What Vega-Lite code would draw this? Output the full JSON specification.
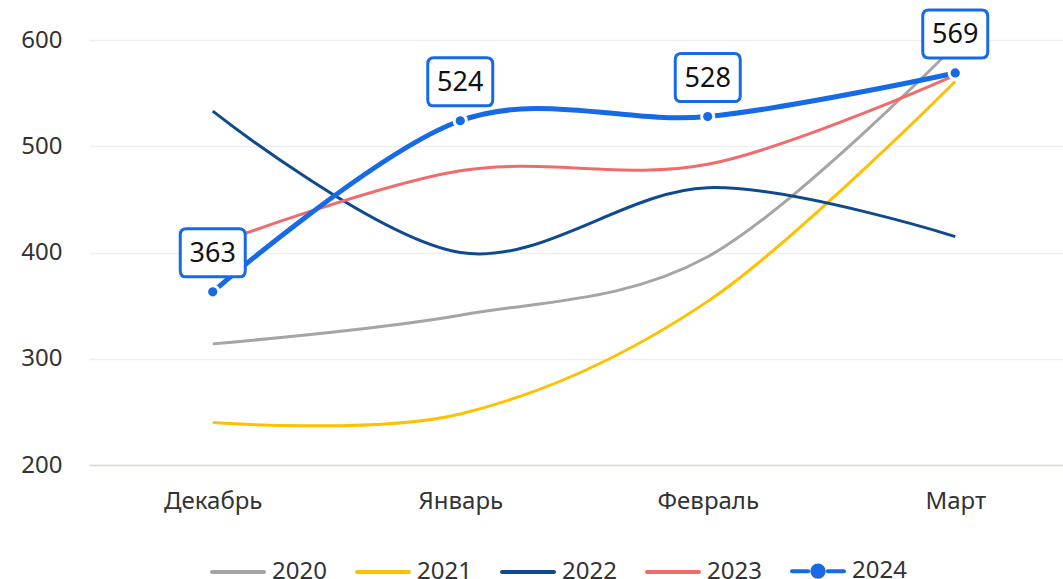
{
  "$schema": "https://vega.github.io/schema/vega-lite/v6.json",
  "width": 990,
  "height": 425,
  "autosize": {"type": "none"},
  "padding": {"left": 89, "top": 40, "right": 0, "bottom": 114},
  "background": "white",
  "config": {"font": "Noto Sans", "view": {"stroke": null}},
  "data": {"values": [
    {"month": "Декабрь", "year": "2020", "value": 314},
    {"month": "Январь", "year": "2020", "value": 341},
    {"month": "Февраль", "year": "2020", "value": 396},
    {"month": "Март", "year": "2020", "value": 595},
    {"month": "Декабрь", "year": "2021", "value": 240},
    {"month": "Январь", "year": "2021", "value": 248},
    {"month": "Февраль", "year": "2021", "value": 354},
    {"month": "Март", "year": "2021", "value": 561},
    {"month": "Декабрь", "year": "2022", "value": 533},
    {"month": "Январь", "year": "2022", "value": 400},
    {"month": "Февраль", "year": "2022", "value": 461},
    {"month": "Март", "year": "2022", "value": 415},
    {"month": "Декабрь", "year": "2023", "value": 407},
    {"month": "Январь", "year": "2023", "value": 477},
    {"month": "Февраль", "year": "2023", "value": 483},
    {"month": "Март", "year": "2023", "value": 567},
    {"month": "Декабрь", "year": "2024", "value": 363},
    {"month": "Январь", "year": "2024", "value": 524},
    {"month": "Февраль", "year": "2024", "value": 528},
    {"month": "Март", "year": "2024", "value": 569}
  ]},
  "encoding": {
    "x": {
      "field": "month", "type": "ordinal",
      "sort": ["Декабрь", "Январь", "Февраль", "Март"],
      "scale": {"type": "point", "padding": 0.5},
      "axis": {"title": null, "ticks": false, "grid": false, "domainColor": "#D6D6E2", "domainWidth": 1.5, "labelFontSize": 24, "labelColor": "#333333", "labelPadding": 24, "labelAngle": 0}
    },
    "y": {
      "field": "value", "type": "quantitative",
      "scale": {"domain": [200, 600], "nice": false, "zero": false},
      "axis": {"title": null, "values": [200, 300, 400, 500, 600], "ticks": false, "domain": false, "gridColor": "#EEEEF4", "gridWidth": 1.5, "labelFontSize": 24, "labelColor": "#333333", "labelPadding": 27}
    }
  },
  "layer": [
    {
      "mark": {"type": "line", "interpolate": "cardinal"},
      "encoding": {
        "color": {
          "field": "year", "type": "nominal",
          "scale": {"domain": ["2020", "2021", "2022", "2023", "2024"], "range": ["#A5A5A5", "#FFC000", "#0F4A8E", "#F06C6C", "#176AE6"]},
          "legend": {
            "title": null, "orient": "none", "direction": "horizontal",
            "legendX": 121, "legendY": 503,
            "labelFontSize": 24, "labelColor": "#333333", "labelOffset": 6,
            "columnPadding": 22, "symbolSize": 2704, "symbolStrokeWidth": 4,
            "encode": {"symbols": {"update": {
              "shape": {"signal": "datum.value === '2024' ? 'M-1,0H-0.38M0.38,0H1M0.22,0A0.22,0.22 0 1 1 -0.22,0A0.22,0.22 0 1 1 0.22,0Z' : 'M-1,0H1'"},
              "fill": {"signal": "datum.value === '2024' ? '#176AE6' : 'transparent'"},
              "strokeWidth": {"value": 4},
              "strokeCap": {"value": "round"}
            }}}
          }
        },
        "strokeWidth": {"condition": {"test": "datum.year === '2024'", "value": 5}, "value": 3}
      }
    },
    {
      "transform": [{"filter": "datum.year === '2024'"}],
      "mark": {"type": "point", "filled": true, "size": 150, "color": "#176AE6", "stroke": "white", "strokeWidth": 3, "opacity": 1}
    },
    {
      "transform": [{"filter": "datum.year === '2024'"}],
      "mark": {"type": "point", "shape": "M-0.81,-0.74H0.81Q1,-0.74 1,-0.55V0.55Q1,0.74 0.81,0.74H-0.81Q-1,0.74 -1,0.55V-0.55Q-1,-0.74 -0.81,-0.74Z", "size": 4225, "filled": true, "fill": "white", "stroke": "#176AE6", "strokeWidth": 3, "opacity": 1, "fillOpacity": 1, "yOffset": -39}
    },
    {
      "transform": [{"filter": "datum.year === '2024'"}],
      "mark": {"type": "text", "fontSize": 27, "color": "#111111", "baseline": "middle", "yOffset": -38},
      "encoding": {"text": {"field": "value", "type": "quantitative"}}
    }
  ]
}
